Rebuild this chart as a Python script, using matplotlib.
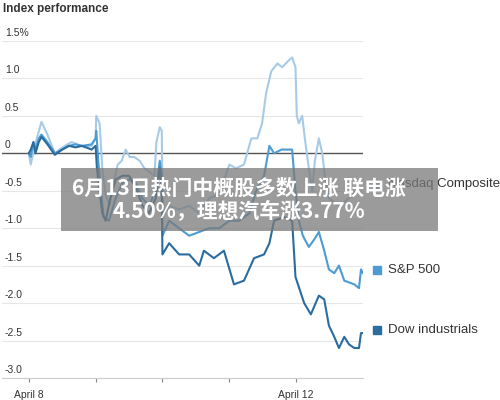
import matplotlib
matplotlib.use("Agg")
import matplotlib.pyplot as plt

plt.rcParams['font.family'] = ['Noto Sans CJK SC', 'DejaVu Sans']

nas_t = [0,0.03,0.09,0.19,0.28,0.39,0.46,0.54,0.64,0.73,0.84,0.94,1.0,1.01,1.06,1.1,1.15,1.21,1.28,1.33,1.39,1.45,1.51,1.58,1.66,1.73,1.81,1.88,1.91,1.96,1.99,2.0,2.03,2.1,2.25,2.4,2.55,2.7,2.85,3.0,3.1,3.22,3.33,3.42,3.49,3.55,3.63,3.72,3.79,3.9,3.94,3.99,4.01,4.04,4.09,4.13,4.19,4.24,4.28,4.34,4.39,4.43,4.49,4.64,4.79,4.9,4.99]
nas_v = [0,-0.15,0.1,0.42,0.25,0.0,0.05,0.1,0.15,0.12,0.08,0.1,0.2,0.5,0.4,-0.2,-0.55,-0.7,-0.35,-0.15,-0.1,0.05,-0.05,-0.05,-0.1,-0.2,-0.25,-0.3,0.15,0.35,0.3,-0.6,-0.8,-0.7,-0.75,-0.7,-0.8,-0.6,-0.55,-0.15,-0.2,-0.15,0.2,0.2,0.4,0.8,1.1,1.2,1.15,1.25,1.28,1.15,0.5,0.4,0.5,0.2,-0.2,-0.5,-0.1,0.2,0.0,-0.3,-0.6,-0.7,-0.6,-0.5,-0.55]

sp_t = [0,0.03,0.07,0.1,0.15,0.19,0.28,0.39,0.5,0.6,0.7,0.8,0.94,1.0,1.01,1.04,1.08,1.12,1.2,1.3,1.4,1.5,1.6,1.7,1.8,1.9,1.96,1.99,2.0,2.1,2.25,2.4,2.55,2.7,2.85,3.0,3.15,3.3,3.4,3.52,3.6,3.67,3.78,3.94,3.99,4.04,4.1,4.19,4.27,4.34,4.42,4.49,4.57,4.64,4.72,4.87,4.94,4.97,5.0]
sp_v = [0,-0.05,0.15,0.05,0.2,0.25,0.15,0.0,0.05,0.1,0.12,0.1,0.12,0.2,0.3,-0.1,-0.5,-0.85,-0.9,-0.6,-0.4,-0.35,-0.4,-0.6,-0.7,-0.5,-0.1,-0.3,-1.1,-0.9,-1.0,-1.1,-1.05,-1.0,-1.0,-0.9,-0.9,-0.8,-0.5,-0.3,0.1,0.0,0.05,0.05,-0.5,-0.9,-1.1,-1.25,-1.15,-1.05,-1.3,-1.55,-1.6,-1.5,-1.7,-1.75,-1.8,-1.55,-1.6]

dow_t = [0,0.03,0.07,0.1,0.15,0.19,0.28,0.39,0.5,0.6,0.7,0.8,0.94,1.0,1.02,1.06,1.1,1.15,1.22,1.3,1.4,1.5,1.6,1.7,1.8,1.9,1.96,1.99,2.0,2.1,2.25,2.4,2.55,2.62,2.77,2.92,3.07,3.22,3.37,3.52,3.6,3.67,3.82,3.94,3.99,4.12,4.22,4.34,4.42,4.49,4.57,4.64,4.72,4.79,4.87,4.94,4.97,5.0]
dow_v = [0,0.05,0.15,0.0,0.15,0.22,0.12,-0.02,0.05,0.1,0.08,0.1,0.05,0.1,-0.2,-0.5,-0.8,-0.9,-0.6,-0.35,-0.3,-0.3,-0.45,-0.7,-0.8,-0.6,-0.2,-0.5,-1.35,-1.2,-1.35,-1.35,-1.5,-1.3,-1.4,-1.3,-1.75,-1.7,-1.4,-1.35,-1.2,-0.9,-0.85,-0.9,-1.65,-2.0,-2.15,-1.9,-1.95,-2.3,-2.45,-2.6,-2.45,-2.55,-2.6,-2.6,-2.4,-2.4]

yticks = [1.5, 1.0, 0.5, 0, -0.5, -1.0, -1.5, -2.0, -2.5, -3.0]
ylabels = ['1.5%', '1.0', '0.5', '0', '-0.5', '-1.0', '-1.5', '-2.0', '-2.5', '-3.0']
xticks = [0, 1, 2, 3, 4]
xlabels = ['April 8', '', '', '', 'April 12']
legend_names = ['Nasdaq Composite', 'S&P 500', 'Dow industrials']
legend_y = [-0.41, -1.56, -2.36]
colors = ['#a7cbe6', '#4d9bd3', '#2b6c9f']

fig = plt.figure(figsize=(5, 4), dpi=100)
ax = fig.add_axes([0.004, 0.055, 0.722, 0.8425])
ax.set_xlim(-0.4, 5.0)
ax.set_ylim(-3.0, 1.5)
for y, lab in zip(yticks, ylabels):
    ax.axhline(y, color='#555555' if y == 0 else '#e6e6e6', lw=1.0 if y == 0 else 0.8, zorder=0)
    ax.text(0.008, y + 0.04, lab, transform=ax.get_yaxis_transform(),
            fontsize=7.5, color='#333333', va='bottom', ha='left', family='Liberation Sans')

ax.plot(nas_t, nas_v, color=colors[0], lw=1.5)
ax.plot(sp_t, sp_v, color=colors[1], lw=1.5)
ax.plot(dow_t, dow_v, color=colors[2], lw=1.5)

for s in ['top', 'right', 'left']:
    ax.spines[s].set_visible(False)
ax.spines['bottom'].set_color('#cccccc')
ax.set_yticks([])
ax.set_xticks(xticks)
ax.set_xticklabels(xlabels, fontsize=7.5, color='#333333', family='Liberation Sans')
ax.tick_params(axis='x', length=3, color='#888888', pad=6)

for name, y, c in zip(legend_names, legend_y, colors):
    ax.plot([1.04], [y], marker='s', ms=6, color=c, transform=ax.get_yaxis_transform(), clip_on=False)
    ax.text(1.07, y, name, transform=ax.get_yaxis_transform(), fontsize=9.5, color='#333333',
            va='center', ha='left', family='Liberation Sans')

fig.text(0.006, 0.977, 'Index performance', fontsize=8.5, fontweight='bold', color='#333333',
         va='center', ha='left', family='Liberation Sans')

fig.patches.append(plt.Rectangle((0.122, 0.4225), 0.754, 0.1575, transform=fig.transFigure,
                                 facecolor='#7a7a7a', alpha=0.75, zorder=5))
fig.text(0.478, 0.501, '6月13日热门中概股多数上涨 联电涨\n4.50%，理想汽车涨3.77%', fontsize=15,
         fontweight='bold', color='white', ha='center', va='center', linespacing=1.15, zorder=6)

fig.savefig('out.png')
